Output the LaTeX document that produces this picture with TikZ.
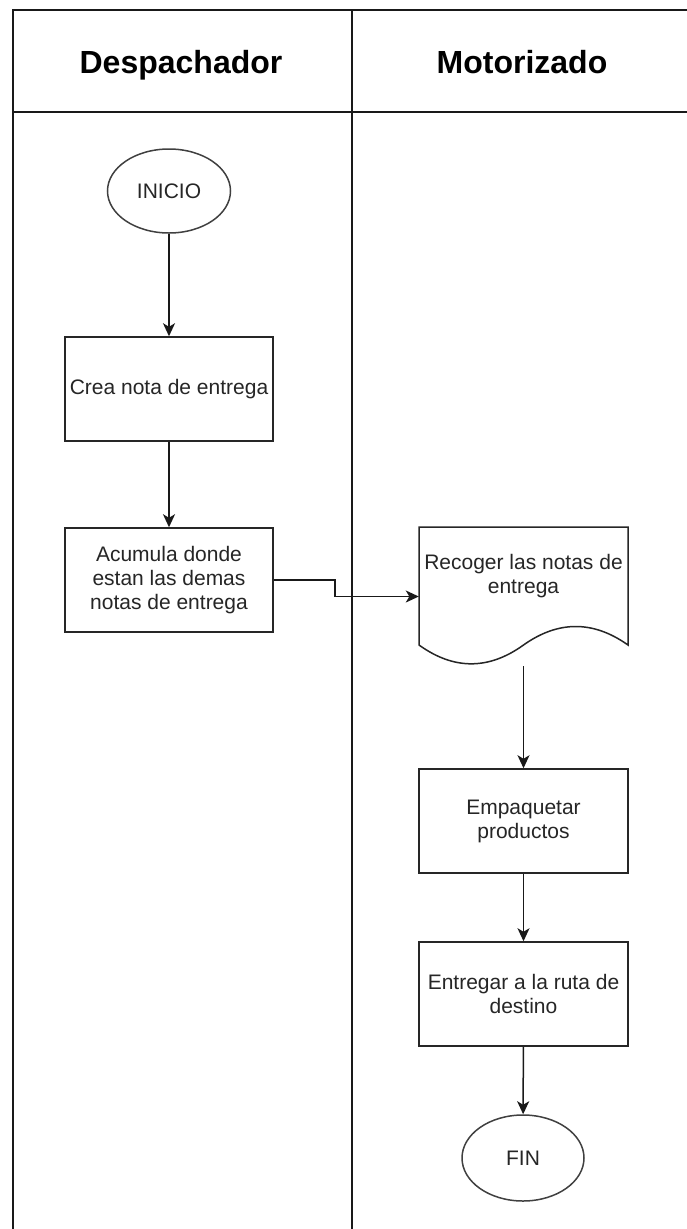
\documentclass[tikz,border=0pt]{standalone}
\usepackage{fontspec}
\setmainfont{Liberation Sans}
\usetikzlibrary{shapes.geometric,arrows.meta}
\begin{document}
\begin{tikzpicture}[x=1pt,y=-1pt,
  lane/.style={line width=2.5pt,black!90},
  box/.style={draw,line width=1.5pt,black!85,fill=white,rectangle,minimum width=208pt,minimum height=104pt,inner sep=0pt,align=center,font=\fontsize{21}{24}\selectfont,text=black!85},
  term/.style={draw,line width=1.5pt,black!75,fill=white,ellipse,minimum width=123pt,minimum height=84pt,inner sep=0pt,font=\fontsize{21}{24}\selectfont,text=black!85},
  hdr/.style={font=\fontsize{32}{36}\selectfont\bfseries,text=black,anchor=base},
  arr/.style={line width=1.5pt,black!90,-{Stealth[length=13pt,width=12pt,inset=3.5pt]}}
]
\useasboundingbox (0,0) rectangle (687,1229);
% pool / lanes
\draw[lane] (13,10) -- (13,1229);
\draw[lane] (352,10) -- (352,1229);
\draw[lane] (12,10) -- (687,10);
\draw[lane] (12,112) -- (687,112);
\node[hdr] (h1) at (181,73) {Despachador};
\node[hdr] (h2) at (522,73) {Motorizado};
% nodes
\node[term] (ini) at (169,191) {INICIO};
\node[box] (crea) at (169,389) {Crea nota de entrega};
\node[box] (acum) at (169,580) {Acumula donde\\estan las demas\\notas de entrega};
% document shape
\node[rectangle,minimum width=209pt,minimum height=139pt,inner sep=0pt] (doc) at (523.5,596.5) {};
\draw[line width=1.5pt,black!85,fill=white] (419,527) -- (628,527) -- (628,645)
  .. controls (593.17,620.33) and (558.33,620.33) .. (523.5,645)
  .. controls (488.67,670.07) and (453.83,670.07) .. (419,645) -- cycle;
\node[align=center,font=\fontsize{21}{24}\selectfont,text=black!85] (doct) at (523.5,576) {Recoger las notas de\\entrega};
\node[box,minimum width=209pt] (emp) at (523.5,821) {Empaquetar\\productos};
\node[box,minimum width=209pt] (ent) at (523.5,994) {Entregar a la ruta de\\destino};
\node[term,minimum width=122pt,minimum height=86pt] (fin) at (523,1158) {FIN};
% connectors
\draw[arr] (ini) -- (crea);
\draw[arr] (crea) -- (acum);
\draw[arr] (acum.east) -- ++(61,0) |- (doc.west);
\draw[arr] (doc.south) -- (emp.north);
\draw[arr] (emp) -- (ent);
\draw[arr] (ent) -- (fin);
\end{tikzpicture}
\end{document}
